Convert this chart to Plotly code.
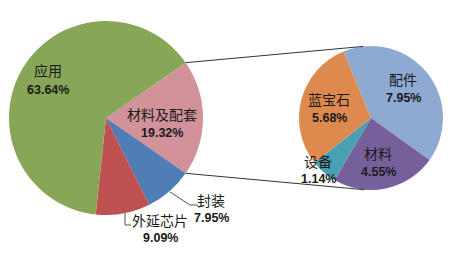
import math
import plotly.graph_objects as go

W, H = 455, 257

# Data
main_labels = ["材料及配套", "封装", "外延芯片", "应用"]
main_values = [19.32, 7.95, 9.09, 63.64]
main_colors = ["#D1929A", "#4F7DB6", "#BF5153", "#88A657"]

sub_labels = ["配件", "材料", "设备", "蓝宝石"]
sub_values = [7.95, 4.55, 1.14, 5.68]
sub_colors = ["#8EA9D2", "#76609B", "#4AA0B3", "#DE8A4F"]

# Geometry (pixels)
c1, r1 = (106, 118), 97
c2, r2 = (371, 118), 72


def px(x):
    return x / W


def py(y):
    return 1 - y / H


def dom(c, r):
    return dict(x=[px(c[0] - r), px(c[0] + r)], y=[py(c[1] + r), py(c[1] - r)])


split_deg = 360 * main_values[0] / sum(main_values)
rot1 = 90 - split_deg / 2

fig = go.Figure()
fig.add_trace(go.Pie(labels=main_labels, values=main_values, sort=False,
                     direction="clockwise", rotation=rot1,
                     marker=dict(colors=main_colors, line=dict(width=0)),
                     textinfo="none", hoverinfo="label+percent",
                     domain=dom(c1, r1), showlegend=False))
fig.add_trace(go.Pie(labels=sub_labels, values=sub_values, sort=False,
                     direction="clockwise", rotation=-22.5,
                     marker=dict(colors=sub_colors, line=dict(width=0)),
                     textinfo="none", hoverinfo="label+value",
                     domain=dom(c2, r2), showlegend=False))


def pt(c, r, deg):
    a = math.radians(deg)
    return c[0] + r * math.sin(a), c[1] - r * math.cos(a)


shapes = []
# connector lines
for a1, a2 in [(rot1, -6), (rot1 + split_deg, 185)]:
    x0, y0 = pt(c1, r1, a1)
    x1, y1 = pt(c2, r2, a2)
    shapes.append(dict(type="line", xref="paper", yref="paper",
                       x0=px(x0), y0=py(y0), x1=px(x1), y1=py(y1),
                       line=dict(color="#333333", width=1)))


def path(points):
    s = "M " + " L ".join(f"{px(x)},{py(y)}" for x, y in points)
    return dict(type="path", xref="paper", yref="paper", path=s,
                line=dict(color="#555555", width=1))


shapes.append(path([(170, 192), (190, 205), (198, 205)]))
shapes.append(path([(125, 213), (125, 225), (131, 225)]))

# labels: (name, pct, x, y_name, y_pct)
label_pos = [
    ("应用", "63.64%", 48, 70, 90),
    ("材料及配套", "19.32%", 162, 114, 133),
    ("封装", "7.95%", 211, 200, 218),
    ("外延芯片", "9.09%", 160, 220, 238),
    ("配件", "7.95%", 403, 79, 98),
    ("蓝宝石", "5.68%", 329, 99, 118),
    ("材料", "4.55%", 378, 153, 172),
    ("设备", "1.14%", 318, 161, 179),
]
ann = []
for name, pct, x, yn, yp in label_pos:
    ann.append(dict(text=name, x=px(x), y=py(yn), xref="paper", yref="paper",
                    showarrow=False, xanchor="center", yanchor="middle",
                    font=dict(family="Noto Sans CJK SC", size=14, color="#1a1a1a")))
    ann.append(dict(text="<b>" + pct + "</b>", x=px(x), y=py(yp), xref="paper", yref="paper",
                    showarrow=False, xanchor="center", yanchor="middle",
                    font=dict(family="Liberation Sans", size=12.5, color="#1a1a1a")))

fig.update_layout(width=W, height=H, margin=dict(l=0, r=0, t=0, b=0),
                  paper_bgcolor="white", plot_bgcolor="white",
                  shapes=shapes, annotations=ann)
fig.write_html("out.html")
